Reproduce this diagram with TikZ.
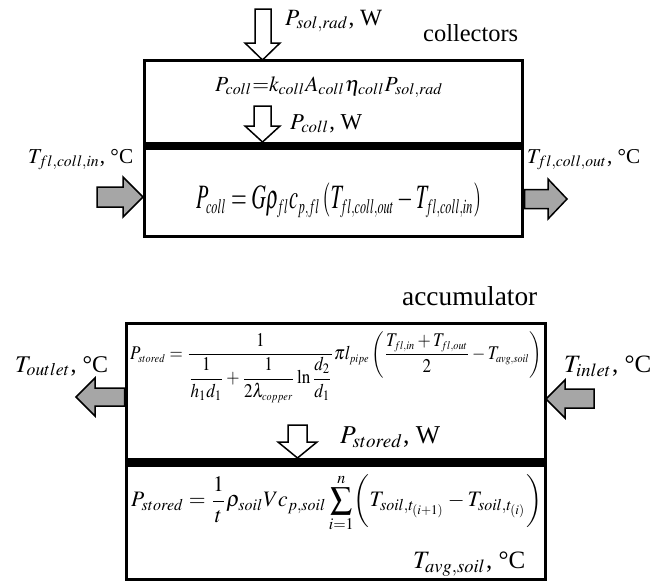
\documentclass[tikz,border=0pt]{standalone}
\usepackage{amsmath}
\usepackage{mathptmx}
\usepackage{fontspec}
\setmainfont{Liberation Serif}
\usepackage{graphicx}
\definecolor{arrgray}{HTML}{A6A6A6}
% width only
\newcommand{\fitw}[2]{\resizebox{#1pt}{!}{#2}}
% width / total height
\newcommand{\fitwt}[3]{\resizebox*{#1pt}{#2pt}{#3}}
\newcommand{\mysub}[1]{_{\scriptscriptstyle #1}}
\begin{document}
\begin{tikzpicture}[x=1pt,y=-1pt,
  boxframe/.style={draw=black, line width=3pt, inner sep=0pt},
  band/.style={fill=black, draw=none},
  hollowarr/.style={draw=black, fill=white, line width=1.5pt, line join=miter},
  grayarr/.style={draw=black, fill=arrgray, line width=1.5pt, line join=miter},
  lbl/.style={inner sep=0pt, anchor=base west},
  eqn/.style={inner sep=0pt, anchor=west}]
\useasboundingbox (0,0) rectangle (666,581);

% boxes
\node[boxframe, minimum width=378pt, minimum height=176pt] (coll) at (333,148) {};
\node[boxframe, minimum width=419pt, minimum height=256pt] (acc) at (335.5,451) {};
\fill[band] (142.5,142) rectangle (523.5,150);
\fill[band] (124.5,458) rectangle (547,467);

% hollow arrows
\draw[hollowarr] (255,9) -- (271,9) -- (271,43) -- (280,43) -- (262.5,60) -- (245,43) -- (255,43) -- cycle;
\draw[hollowarr] (254,106) -- (271,106) -- (271,126) -- (280,126) -- (262.5,142) -- (245,126) -- (254,126) -- cycle;
\draw[hollowarr] (288,425) -- (307,425) -- (307,442) -- (317,442) -- (297.5,458) -- (278,442) -- (288,442) -- cycle;

% gray arrows
\draw[grayarr] (97,187) -- (123,187) -- (123,177) -- (143,197) -- (123,217) -- (123,207) -- (97,207) -- cycle;
\draw[grayarr] (524.5,189.5) -- (548,189.5) -- (548,179) -- (567,199) -- (548,219) -- (548,208.5) -- (524.5,208.5) -- cycle;
\draw[grayarr] (124.5,388) -- (95,388) -- (95,378) -- (76,397) -- (95,416) -- (95,406) -- (124.5,406) -- cycle;
\draw[grayarr] (594,389) -- (565,389) -- (565,380) -- (546,399) -- (565,418) -- (565,408) -- (594,408) -- cycle;

% collectors labels
\node[lbl] (lsol) at (285,25) {\fitw{97}{$P_{sol{,}rad}$, W}};
\node[lbl] (lcollectors) at (423,41) {\fitw{95}{collectors}};
\node[lbl] (f1) at (215,91) {\fitw{228}{$P_{coll}{=}k_{coll}A_{coll}\eta_{coll}P_{sol{,}rad}$}};
\node[lbl] (lpcoll) at (290,129) {\fitw{72}{$P_{coll}$, W}};
\node[lbl] (ltin) at (28,163) {\fitw{105}{$T_{fl{,}coll{,}in}$, °C}};
\node[lbl] (ltout) at (527,163) {\fitw{113}{$T_{fl{,}coll{,}out}$, °C}};
\node[eqn] (f2) at (196,200) {\fitwt{285}{35}{$P\mysub{coll}=G\rho\mysub{fl}c\mysub{p,fl}\left(T\mysub{fl,coll,out}-T\mysub{fl,coll,in}\right)$}};

% accumulator labels
\node[lbl] (lacc) at (402,305) {\fitw{135}{accumulator}};
\node[lbl] (loutlet) at (15,372) {\fitw{93}{$T_{outlet}$, °C}};
\node[lbl] (linlet) at (564,372) {\fitw{87}{$T_{inlet}$, °C}};
\node[eqn] (f3) at (130,367) {\fitwt{412}{71}{$P\mysub{stored}=\dfrac{1}{\dfrac{1}{h_1d_1}+\dfrac{1}{2\lambda\mysub{copper}}\ln\dfrac{d_2}{d_1}}\pi l\mysub{pipe}\left(\dfrac{T\mysub{fl,in}+T\mysub{fl,out}}{2}-T\mysub{avg,soil}\right)$}};
\node[lbl] (lpstored) at (340,443) {\fitw{100}{$P_{stored}$, W}};
\node[eqn] (f4) at (131,503) {\fitwt{411}{58}{$\displaystyle P_{stored}=\frac{1}{t}\rho_{soil}Vc_{p,soil}\sum_{i=1}^{n}\biggl(T_{soil,t_{(i+1)}}-T_{soil,t_{(i)}}\biggr)$}};
\node[lbl] (ltavg) at (413,568) {\fitw{112}{$T_{avg{,}soil}$, °C}};
\end{tikzpicture}
\end{document}
